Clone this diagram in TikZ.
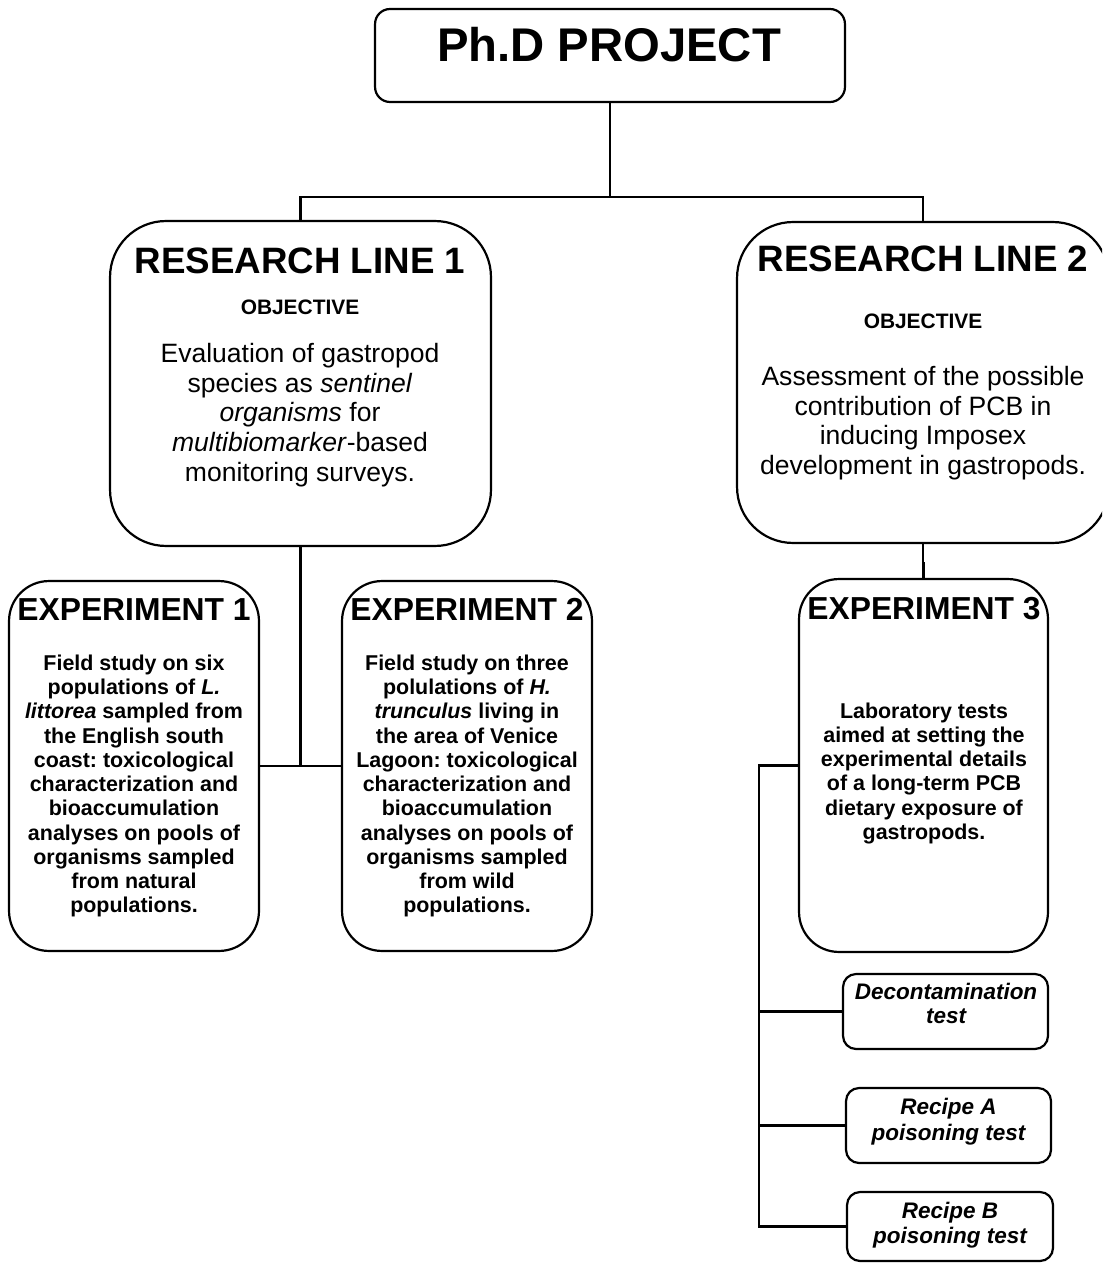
\documentclass[tikz,border=0pt]{standalone}
\usepackage{fontspec}
\setmainfont{Liberation Sans}
\frenchspacing
\begin{document}
\begin{tikzpicture}[x=0.02cm,y=-0.02cm,
  conn/.style={line width=1.25pt},
  box/.style={draw, line width=1.25pt, inner sep=0pt},
  phdbox/.style={box, rounded corners=0.3cm},
  linebox/.style={box, rounded corners=1.12cm},
  expbox/.style={box, rounded corners=0.8cm},
  testbox/.style={box, rounded corners=0.26cm},
  txt/.style={inner sep=0pt, align=center},
  phdfont/.style={txt, font=\bfseries\fontsize{26.9}{32}\selectfont},
  linetitle/.style={txt, font=\bfseries\fontsize{20.9}{25}\selectfont},
  objtitle/.style={txt, font=\bfseries\fontsize{11.9}{14}\selectfont},
  linebody/.style={txt, font=\fontsize{15.1}{17}\selectfont},
  exptitle/.style={txt, font=\bfseries\fontsize{18.1}{22}\selectfont},
  expbody/.style={txt, font=\bfseries\fontsize{12.2}{13.8}\selectfont},
  testtxt/.style={txt, font=\bfseries\itshape\fontsize{12.8}{#1}\selectfont}
]
\useasboundingbox (0,0) rectangle (1102,1263);
\clip (0,0) rectangle (1102,1263);

% ---- boxes ----
\node[phdbox, minimum width=9.4cm, minimum height=1.86cm] (phd) at (610,55.5) {};
\node[linebox, minimum width=7.62cm, minimum height=6.5cm] (rl1) at (300.5,383.5) {};
\node[linebox, minimum width=7.44cm, minimum height=6.42cm] (rl2) at (923,382.5) {};
\node[expbox, minimum width=5cm, minimum height=7.4cm] (exp1) at (134,766) {};
\node[expbox, minimum width=5cm, minimum height=7.4cm] (exp2) at (467,766) {};
\node[expbox, minimum width=4.98cm, minimum height=7.46cm] (exp3) at (923.5,765.5) {};
\node[testbox, minimum width=4.1cm, minimum height=1.5cm] (decon) at (945.5,1011.5) {};
\node[testbox, minimum width=4.1cm, minimum height=1.5cm] (recA) at (948.5,1125.5) {};
\node[testbox, minimum width=4.12cm, minimum height=1.38cm] (recB) at (950,1226.5) {};

% ---- texts ----
\node[phdfont, anchor=base] (phdT) at (609,62) {Ph.D PROJECT};

\node[linetitle, anchor=base] (rl1T) at (300,274) {RESEARCH LINE 1};
\node[objtitle, anchor=base] (rl1O) at (300,315) {OBJECTIVE};
\node[linebody, anchor=north] (rl1B) at (300,341) {\strut Evaluation of gastropod\\
species as \textit{sentinel}\\
\textit{organisms} for\\
\textit{multibiomarker}-based\\
monitoring surveys.};

\node[linetitle, anchor=base] (rl2T) at (923,272) {RESEARCH LINE 2};
\node[objtitle, anchor=base] (rl2O) at (923,329) {OBJECTIVE};
\node[linebody, anchor=north] (rl2B) at (923,364) {\strut Assessment of the possible\\
contribution of PCB in\\
inducing Imposex\\
development in gastropods.};

\node[exptitle, anchor=base] (exp1T) at (134,620) {EXPERIMENT 1};
\node[expbody, anchor=north] (exp1B) at (134,653) {\strut Field study on six\\
populations of \textit{L.}\\
\textit{littorea} sampled from\\
the English south\\
coast: toxicological\\
characterization and\\
bioaccumulation\\
analyses on pools of\\
organisms sampled\\
from natural\\
populations.};

\node[exptitle, anchor=base] (exp2T) at (467,620) {EXPERIMENT 2};
\node[expbody, anchor=north] (exp2B) at (467,653) {\strut Field study on three\\
polulations of \textit{H.}\\
\textit{trunculus} living in\\
the area of Venice\\
Lagoon: toxicological\\
characterization and\\
bioaccumulation\\
analyses on pools of\\
organisms sampled\\
from wild\\
populations.};

\node[exptitle, anchor=base] (exp3T) at (924,619) {EXPERIMENT 3};
\node[expbody, anchor=north] (exp3B) at (924,700.7) {\strut Laboratory tests\\
aimed at setting the\\
experimental details\\
of a long-term PCB\\
dietary exposure of\\
gastropods.};

\node[testtxt=13.6, anchor=north] (deconT) at (946,982.2) {\strut Decontamination\\ test};
\node[testtxt=14.7, anchor=north] (recAT) at (948.5,1095.8) {\strut Recipe A\\ poisoning test};
\node[testtxt=14.2, anchor=north] (recBT) at (950,1200.5) {\strut Recipe B\\ poisoning test};

% ---- connectors ----
\coordinate (y197) at (0,197);
\coordinate (bus) at (759,766);
\draw[conn] (phd.south) -- (phd.south |- y197);
\draw[conn] (rl1.north) |- (y197 -| rl2.north) -- (rl2.north);
\draw[conn] (rl1.south) -- (rl1.south |- exp1.east);
\draw[conn] (exp1.east) -- (exp2.west);
\draw[conn] (rl2.south) -- ++(0,19) -| (exp3.north);
\draw[conn] (exp3.west) -- (bus |- exp3.west) -- (bus |- recB.west) -- (recB.west);
\draw[conn] (bus |- decon.west) -- (decon.west);
\draw[conn] (bus |- recA.west) -- (recA.west);
\end{tikzpicture}
\end{document}
